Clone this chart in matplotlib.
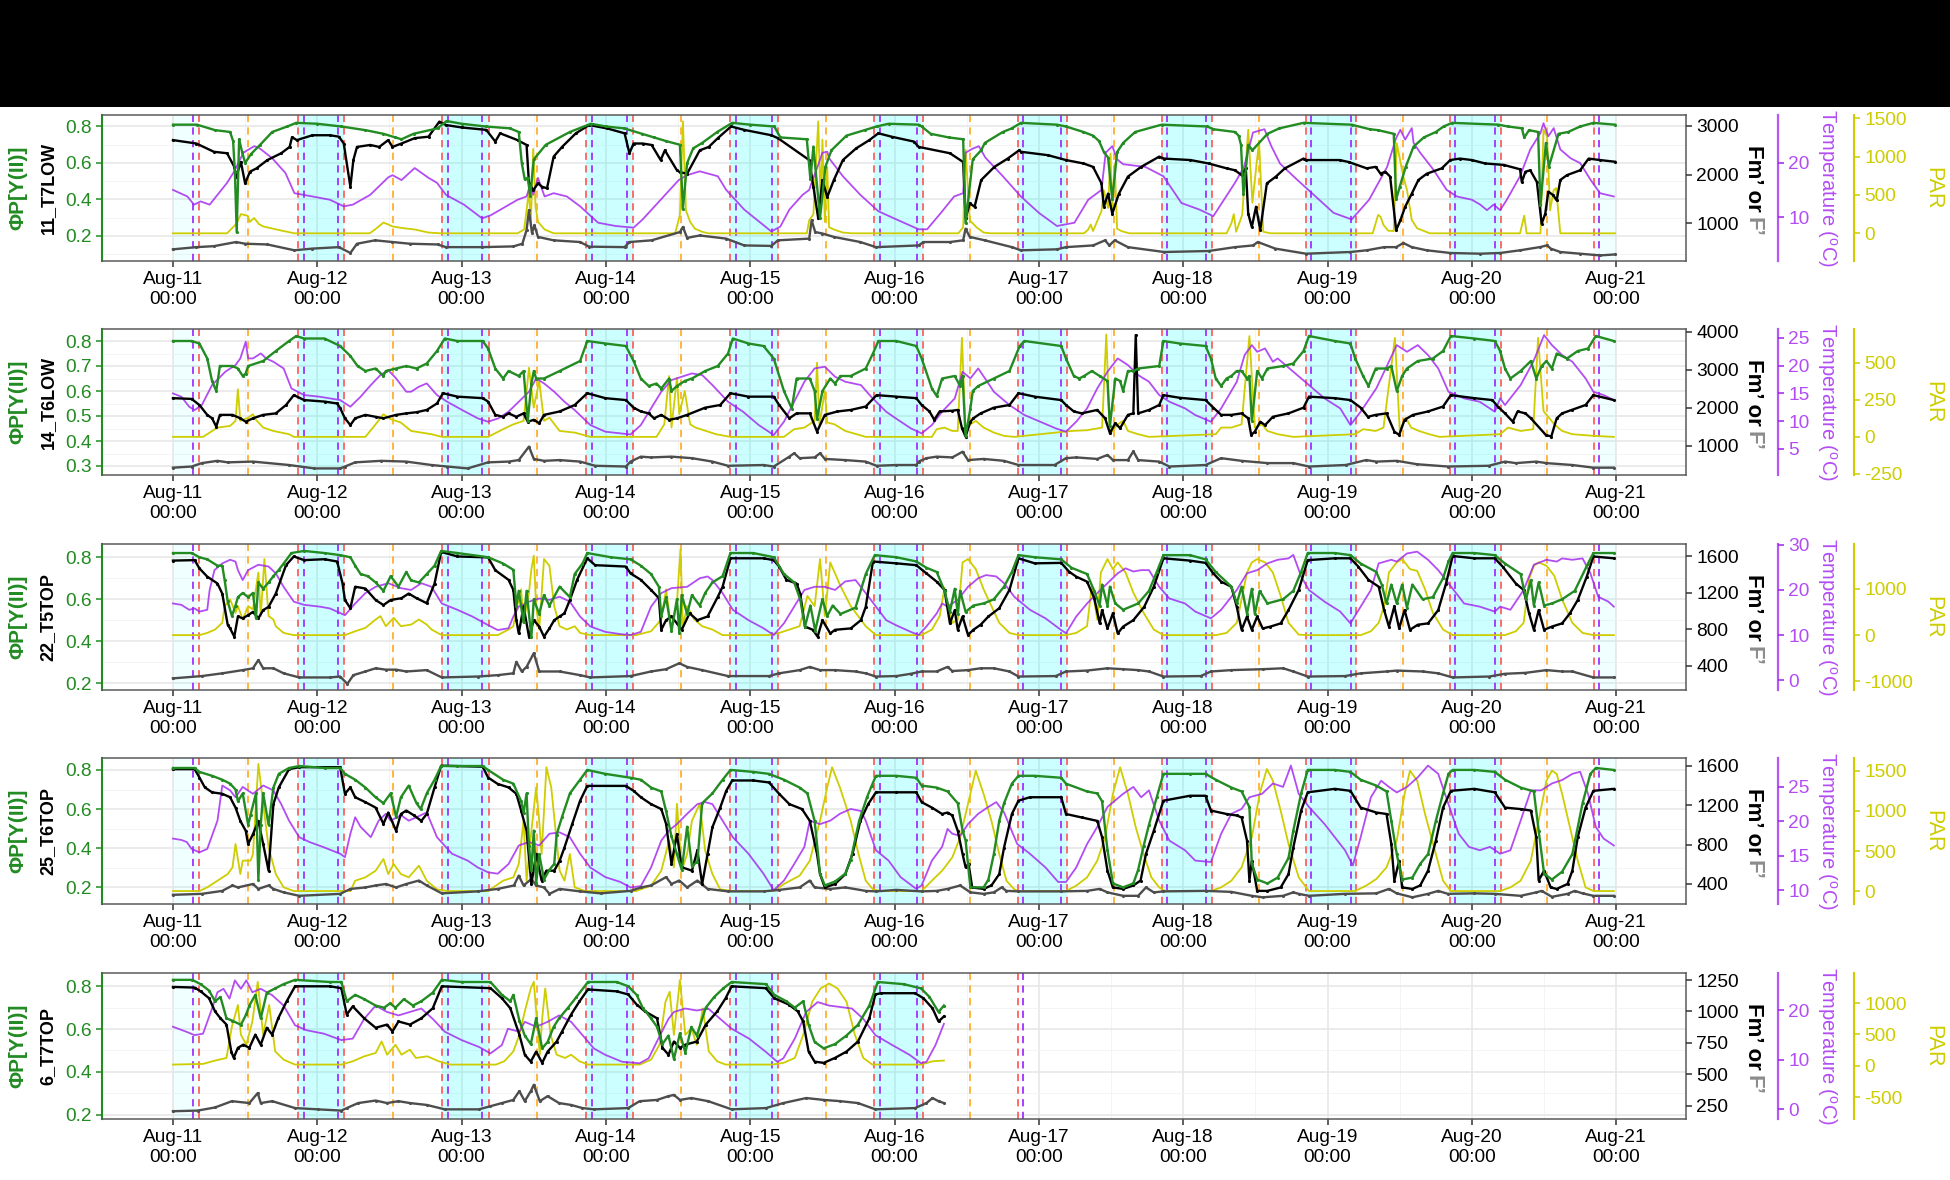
import matplotlib
matplotlib.use('Agg')
import matplotlib.pyplot as plt
import matplotlib.dates as mdates
from matplotlib.patches import Rectangle
from matplotlib.ticker import FixedLocator
import numpy as np
import pandas as pd

plt.rcParams['font.family'] = ['Liberation Sans', 'DejaVu Sans']
plt.rcParams['mathtext.fontset'] = 'custom'
plt.rcParams['mathtext.rm'] = 'Liberation Sans'
plt.rcParams['axes.unicode_minus'] = False

START = pd.Timestamp('2021-08-11 00:00')

# ---- data: (hours since Aug-11 00:00, value) ----
# panel 1 : 11_T7LOW
p1_phi = [(0,0.81),(4,0.81),(7,0.78),(9.5,0.77),(10,0.72),(10.3,0.55),(10.6,0.22),(11,0.73),(11.5,0.66),(12,0.60),(13,0.65),(14.5,0.70),(16.5,0.77),(19,0.80),(20.5,0.82),(24,0.815),(28,0.80),(32,0.78),(35,0.76),(37,0.74),(38,0.73),(40,0.76),(44,0.79),(45.5,0.83),(48,0.815),(52,0.80),(56,0.79),(57.5,0.77),(58,0.60),(58.5,0.51),(59,0.52),(59.4,0.42),(60,0.62),(62,0.70),(66,0.77),(69.5,0.815),(72,0.80),(75,0.79),(78,0.76),(80,0.74),(82,0.72),(84.3,0.70),(84.8,0.35),(85.5,0.60),(86.5,0.68),(88,0.71),(90.5,0.77),(93,0.82),(96,0.81),(100,0.80),(101,0.74),(105.4,0.73),(106,0.51),(106.5,0.69),(107.6,0.30),(108.5,0.58),(109.5,0.67),(112,0.75),(115,0.78),(117,0.80),(119,0.815),(124,0.81),(124.5,0.80),(126,0.76),(129,0.74),(131.4,0.73),(131.8,0.27),(133,0.62),(134.4,0.67),(135,0.71),(138,0.77),(139.5,0.79),(141,0.82),(147,0.81),(148.5,0.80),(151.4,0.77),(153,0.75),(154,0.72),(154.8,0.66),(155.5,0.63),(156.2,0.40),(157,0.66),(158,0.71),(160,0.77),(164.4,0.81),(172,0.80),(173,0.785),(176.6,0.77),(177.2,0.75),(177.6,0.70),(178,0.43),(178.8,0.70),(179.5,0.67),(182,0.76),(184,0.79),(188,0.82),(196,0.81),(199,0.785),(200.4,0.78),(203,0.76),(203.4,0.40),(204,0.47),(205,0.58),(206.3,0.69),(208,0.74),(210,0.77),(211.3,0.80),(212.7,0.82),(220.4,0.81),(222,0.80),(224.3,0.79),(224.7,0.74),(225.5,0.78),(227,0.77),(227.4,0.37),(228.3,0.71),(228.8,0.58),(230.4,0.76),(232,0.77),(234,0.80),(236.2,0.82),(239.8,0.81)]
p1_fm = [(0,2710),(3.9,2640),(6.8,2470),(9,2440),(10.2,2160),(10.5,1960),(11.3,2260),(12,1820),(12.8,2060),(13.9,2130),(15.7,2300),(18,2440),(19.4,2570),(19.8,2770),(20.6,2710),(23.2,2810),(26.1,2810),(27.6,2780),(28.4,2640),(29.5,1750),(30,2300),(30.6,2570),(32.8,2610),(34.3,2570),(35.8,2710),(36.5,2570),(38,2640),(40.2,2750),(42.5,2780),(44.3,3090),(45.4,3020),(48,2970),(52.1,2920),(53.6,2680),(54.4,2850),(57.3,2710),(58.8,2610),(59.2,1820),(59.9,1680),(60.7,1820),(61.4,1750),(62.2,1720),(63.3,2370),(64.7,2570),(67,2850),(69.2,3020),(72.2,2950),(75.1,2850),(75.9,2440),(76.6,2640),(78.1,2640),(79.6,2610),(81.1,2300),(81.8,2500),(83.8,2090),(84.3,2050),(85.5,2020),(87.6,2500),(89.1,2570),(90.6,2750),(92.8,2990),(95,2920),(99.5,2810),(100.6,2750),(105.8,2300),(106.5,1750),(107.3,1100),(108,1890),(108.8,1540),(109.9,1890),(111.4,2300),(113.6,2540),(115.8,2710),(117.3,2850),(119.5,2780),(123.2,2680),(124,2570),(129.2,2440),(131.4,2260),(131.8,1100),(132.5,1410),(133.3,1340),(134.4,1890),(136.6,2160),(138.8,2330),(140.7,2500),(141,2470),(145.5,2400),(148.5,2300),(151.4,2230),(153,2160),(154.4,1820),(154.8,1340),(155.5,1610),(156.2,1200),(157.3,1610),(158.8,1960),(161,2160),(164,2370),(164.8,2330),(169.2,2300),(172.2,2230),(175.2,2130),(176.6,2090),(177.7,1990),(178.4,2130),(178.8,1200),(179.4,925),(180.1,1340),(180.8,860),(181.9,1820),(183.4,1960),(184.9,2130),(188,2330),(188.4,2300),(194,2300),(195.5,2260),(198.5,2130),(200,2160),(200.8,2020),(201.6,2060),(202.4,1960),(203.4,860),(204.1,1060),(204.9,1340),(206,1610),(207.1,1890),(208.5,2020),(211,2130),(212.4,2300),(214,2330),(216,2300),(218.2,2230),(221.3,2200),(224,2110),(224.3,1850),(224.9,2060),(225.7,2090),(226.8,1850),(227.6,990),(228.2,1200),(228.7,1650),(229.5,1580),(230.1,1470),(230.7,1890),(231.8,1990),(234,2090),(235.4,2330),(237.3,2300),(239.8,2265)]
p1_f = [(0,465),(3.9,510),(6.8,530),(10.5,615),(12,580),(15.7,565),(20.2,445),(23.2,480),(27.6,510),(29.5,390),(30.6,580),(33.6,650),(36.5,615),(39.4,580),(44,565),(45.4,510),(51.4,510),(56.6,525),(58.1,580),(58.8,860),(59.2,1270),(59.7,800),(60.1,960),(60.7,720),(63.3,650),(67.7,615),(69.2,520),(75.1,510),(75.9,615),(79.6,650),(84.3,820),(84.8,925),(85.5,700),(87.6,750),(92,685),(95,545),(99.5,535),(100.6,650),(105.8,685),(106.2,1060),(106.8,820),(108,790),(109.9,720),(114.3,615),(116.9,510),(124,545),(124.8,615),(129.2,615),(131.4,650),(131.8,890),(132.5,720),(135,650),(139.5,510),(141,445),(147,465),(148.5,510),(153,545),(155,650),(155.7,545),(156.6,650),(158.8,510),(164.8,410),(172.2,430),(176.6,510),(179.6,545),(180.4,615),(183.3,480),(188.4,375),(195.8,410),(198.5,445),(201.4,510),(203.4,510),(204.6,595),(206,510),(208.5,445),(212.4,390),(217.4,375),(220.7,390),(224,445),(227.4,513),(228.5,547),(229.1,480),(230.7,410),(234,375),(237.3,340),(239.8,360)]
p1_temp = [(0,15.0),(2.4,13.8),(3.5,12.3),(4.6,12.9),(6.1,12.3),(9,16.3),(10.2,18.4),(11.7,21.8),(13.5,23.0),(14.3,22.7),(16.5,20.8),(18.7,18.1),(20.2,14.4),(23.2,13.8),(26.1,13.2),(28.4,12.0),(29.9,12.3),(32.8,14.1),(35.8,17.3),(36.5,17.7),(38,16.8),(40.2,19.0),(42.5,17.2),(43.9,16.3),(45.4,14.1),(48.4,12.3),(51.4,9.8),(52.9,10.4),(57.3,13.2),(58.8,13.8),(59.5,16.3),(59.9,14.1),(60.7,17.2),(61.8,13.8),(63.3,14.4),(65.5,13.8),(67.7,12.0),(70.7,9.0),(73.6,8.4),(76.6,8.1),(78.1,9.6),(81.1,13.2),(84.1,16.8),(85.5,17.7),(87.6,18.4),(90.6,17.5),(92,15.0),(95,11.4),(99.5,7.4),(101,8.3),(102.5,11.4),(104.7,14.1),(105.8,15.0),(106.2,16.3),(107.3,19.6),(108,21.8),(108.8,22.0),(109.1,20.8),(111.4,17.5),(114.3,14.1),(117.3,11.1),(120.3,9.6),(124,7.8),(125.4,7.8),(127.7,10.8),(129.9,13.8),(131.4,14.4),(131.8,21.8),(132.9,22.5),(134,23.0),(135.1,20.9),(138,17.5),(141,13.8),(144,10.8),(147,8.4),(149.9,9.0),(152.2,13.2),(154.4,15.0),(155.1,21.8),(156.2,23.0),(157,20.6),(158,19.7),(161.7,19.2),(164.7,17.5),(167.7,12.6),(170.7,11.4),(173,10.2),(176.6,16.3),(178.1,19.2),(179.6,25.5),(181.5,26.1),(182.6,23.1),(184.1,19.8),(187,16.8),(190,13.8),(193,10.8),(196,9.6),(198.9,13.2),(201.9,19.2),(203.4,24.5),(204.1,26.0),(204.9,24.2),(206,26.3),(206.3,23.6),(207.4,21.8),(209.6,18.7),(211.8,15.0),(213.5,13.8),(216,13.2),(217.4,12.3),(218.5,11.3),(219.6,12.3),(220.7,11.3),(221.8,13.2),(224,17.5),(225.7,22.4),(227.4,25.4),(227.9,27.2),(228.7,24.8),(229.6,26.3),(230.7,22.4),(232.4,20.8),(234,19.9),(235.7,16.9),(237.3,14.4),(239.6,13.8)]
p1_par = [(0,0),(9,0),(9.8,65),(10.5,120),(11.3,250),(12.4,230),(12.8,150),(13.5,200),(14.3,120),(15,90),(17.2,50),(20.2,0),(32.7,0),(33.6,50),(35,140),(35.8,115),(36.5,90),(38,70),(40.2,50),(42.5,10),(44.5,0),(57.3,0),(58.4,50),(58.8,300),(59.2,560),(59.5,100),(59.9,1100),(60.3,350),(60.7,150),(61.8,50),(63.3,0),(83.5,0),(84.3,240),(84.8,1460),(85.3,300),(86,150),(86.8,60),(88,20),(89,0),(105.4,0),(105.8,170),(106.5,250),(107.3,1460),(107.7,400),(108,1220),(108.4,150),(108.8,870),(109.1,80),(109.9,50),(111.4,10),(112.9,0),(130.6,0),(131.4,80),(131.8,1090),(132.5,170),(133.6,80),(134.8,10),(136,0),(151.5,0),(152.2,50),(152.6,115),(153,30),(154.4,290),(154.8,560),(155.5,330),(155.9,1040),(156.2,330),(156.6,900),(157,60),(157.7,30),(159,0),(175.2,0),(176,130),(176.4,250),(176.8,20),(177.8,240),(178.8,1350),(179.5,400),(180.6,1200),(181.3,20),(182.5,0),(199.5,0),(200.4,240),(200.8,217),(201.3,108),(202.1,34),(203,30),(203.5,1175),(204.6,740),(205.2,565),(206,175),(206.9,65),(209,0),(224,0),(224.7,230),(225.1,0),(227.4,0),(227.9,1350),(228.5,1265),(229,300),(229.6,565),(230,590),(230.7,0),(239.8,0)]

# panel 2 : 14_T6LOW
p2_phi = [(0,0.80),(3.1,0.80),(4.4,0.79),(5.7,0.73),(6.5,0.64),(7.2,0.60),(7.8,0.70),(9.9,0.70),(10.8,0.69),(11.6,0.66),(12.1,0.67),(12.5,0.70),(15,0.72),(17.1,0.76),(19.3,0.80),(20.5,0.82),(21.8,0.81),(25.2,0.81),(27.8,0.78),(29.5,0.74),(30.7,0.70),(32,0.68),(33.7,0.69),(35,0.66),(35.4,0.68),(37.1,0.69),(38.8,0.70),(40.5,0.69),(42.2,0.71),(43.9,0.76),(45.2,0.81),(47.3,0.80),(51.5,0.80),(52.4,0.77),(53.6,0.69),(54.9,0.65),(55.8,0.68),(57.5,0.66),(58.3,0.68),(59,0.48),(59.6,0.63),(60,0.68),(60.4,0.65),(61.7,0.65),(64.3,0.68),(67.7,0.72),(68.9,0.80),(71.9,0.79),(75.3,0.78),(76.6,0.72),(77.8,0.65),(79.1,0.62),(80.4,0.63),(81.2,0.61),(82.5,0.65),(82.9,0.60),(83.8,0.62),(85.1,0.64),(86.3,0.65),(88.5,0.68),(90.6,0.70),(92.3,0.75),(93.1,0.81),(95.7,0.79),(98.2,0.78),(99.9,0.73),(101.6,0.60),(102.9,0.53),(103.7,0.65),(105.9,0.65),(106.7,0.60),(107.1,0.49),(108,0.60),(109.3,0.65),(110.1,0.63),(111,0.66),(112.7,0.66),(115.2,0.69),(116.4,0.75),(117.3,0.80),(120.3,0.80),(123.6,0.78),(124.5,0.73),(126.2,0.61),(127,0.58),(127.9,0.65),(130,0.66),(130.9,0.62),(131.3,0.66),(131.8,0.42),(132.6,0.53),(133,0.60),(133.9,0.62),(136.5,0.65),(139.1,0.68),(140.8,0.78),(141.6,0.80),(147.7,0.78),(148.5,0.73),(149.8,0.66),(150.7,0.65),(151.5,0.66),(152.8,0.68),(154.1,0.66),(155.4,0.64),(155.8,0.46),(156.7,0.65),(157.5,0.64),(158,0.60),(158.8,0.68),(159.7,0.68),(160.5,0.69),(164,0.70),(164.7,0.80),(167.4,0.79),(171.7,0.78),(172.6,0.73),(173.4,0.65),(174.3,0.62),(175.2,0.65),(176,0.66),(176.9,0.68),(177.7,0.68),(178.6,0.65),(179,0.66),(179.4,0.48),(180.3,0.68),(181.1,0.65),(182,0.69),(184.6,0.70),(186.3,0.71),(188,0.76),(188.9,0.82),(193.2,0.80),(195.8,0.79),(196.6,0.73),(197.9,0.66),(198.8,0.62),(200,0.69),(201.8,0.69),(202.6,0.70),(203.5,0.60),(204.4,0.66),(205.2,0.69),(207,0.72),(209.5,0.73),(211.2,0.76),(212.5,0.82),(216.4,0.81),(219.8,0.80),(220.7,0.76),(221.5,0.69),(222.4,0.65),(224.1,0.68),(225.8,0.72),(226.7,0.65),(227.6,0.70),(228.4,0.72),(229.3,0.69),(230.1,0.75),(231.8,0.73),(233.6,0.76),(235.3,0.77),(236.6,0.82),(239.6,0.80)]
p2_fm = [(0,2250),(3.1,2230),(4.4,2070),(5.7,1810),(6.5,1720),(7.2,1500),(7.8,1810),(9.9,1810),(11.2,1720),(12.1,1630),(13.3,1720),(15,1810),(17.1,1850),(18.8,2070),(20.1,2330),(21.8,2200),(25.2,2160),(27.3,2110),(27.8,1990),(28.6,1720),(29.5,1540),(30.3,1720),(32,1810),(33.7,1760),(35,1720),(37.1,1810),(38.8,1850),(40.5,1880),(42.2,1940),(43.9,2110),(44.9,2380),(47.3,2290),(51.5,2250),(52.4,2160),(53.6,1810),(54.9,1760),(55.8,1850),(57.1,1760),(58.3,1850),(59,1630),(60,1680),(60.9,1590),(61.7,1810),(64.3,1900),(66.8,2070),(68.9,2380),(71.9,2250),(75.3,2200),(76.6,2000),(77.8,1900),(79.1,1850),(80,1720),(81.2,1810),(82.5,1680),(83.8,1720),(85.5,1810),(88.5,2000),(91,2070),(92.7,2380),(95.7,2290),(99.9,2290),(100.8,2070),(102.5,1720),(103.7,1850),(105.9,1850),(107.1,1370),(108.4,1810),(110.5,1900),(112.7,1940),(115.2,2030),(117,2330),(120.3,2290),(123.6,2250),(124.5,2070),(125.8,1900),(126.6,1680),(127.5,1900),(129.6,1920),(130.5,1940),(131.2,1460),(131.8,1240),(132.6,1630),(133.1,1720),(134.3,1850),(136.5,2000),(139.1,2070),(140.6,2380),(143.3,2290),(147.7,2200),(148.5,2070),(149.8,1900),(151.1,1850),(153.7,1940),(155,1720),(155.8,1330),(156.7,1590),(157.5,1460),(158.8,1810),(159.7,1850),(160.1,3910),(160.5,1850),(162.3,1940),(164,2070),(164.7,2330),(167.4,2260),(171.7,2200),(173,2000),(174.3,1810),(176,1810),(177.7,1850),(178.8,1720),(179.3,1280),(179.9,1370),(180.8,1630),(181.6,1540),(182.9,1760),(185.5,1850),(188,2000),(188.9,2290),(193.2,2250),(195.8,2200),(197.5,2000),(198.7,1760),(200,1810),(201.8,1850),(203.1,1370),(203.9,1280),(204.8,1680),(206.2,1810),(208.7,1900),(211.2,2030),(212.5,2330),(216.4,2250),(219.4,2200),(220.3,2030),(221.5,1850),(222.8,1630),(223.6,1900),(224.9,1850),(225.8,1720),(228.3,1280),(229.2,1240),(230.1,1720),(231,1850),(232.6,1940),(234.9,2070),(236.2,2330),(239.6,2200)]
p2_f = [(0,420),(3.1,450),(4.8,540),(7.4,600),(9.1,560),(13.3,580),(19.3,490),(23.5,400),(27.8,400),(28.6,450),(30.3,560),(34.6,600),(38.8,580),(43,490),(45.6,450),(49,400),(52.4,560),(55.8,580),(57.5,620),(59.2,975),(60,650),(61.7,600),(64.3,620),(67.7,580),(70.2,470),(75.3,450),(76.1,580),(77.8,710),(79.5,690),(82.9,710),(86.3,670),(89.7,580),(92.3,470),(98.2,490),(99.9,450),(102.5,710),(103.3,800),(104.2,670),(106.7,690),(107.6,800),(108.4,650),(111.8,620),(115.2,580),(117,470),(120.3,490),(123.6,490),(124,580),(125.3,670),(127,710),(129.6,690),(131.3,840),(132.2,620),(134.8,650),(138.2,600),(140.6,490),(146.6,490),(148.5,670),(150.2,690),(153.7,650),(155.4,755),(156.3,620),(158.8,620),(159.7,850),(160.5,620),(164,580),(165.7,450),(171.7,490),(174.3,670),(177.7,600),(182,540),(186.3,540),(188.9,450),(195,490),(198.4,620),(200.1,580),(203.5,600),(206.9,510),(212,450),(218.8,470),(221.5,580),(223.3,540),(226.7,580),(228.4,540),(232.7,490),(236.2,420),(239.6,420)]
p2_temp = [(0,15.0),(1.4,14.4),(2.7,12.6),(3.6,12.0),(4.8,12.9),(6.5,16.5),(8.7,18.9),(10.4,20.1),(11.2,21.3),(12.1,24.3),(12.5,21.3),(13.3,21.3),(14.6,22.2),(15.5,21.3),(16.7,20.7),(18.4,19.5),(19.7,15.9),(21.8,14.7),(24.4,14.4),(27.8,13.8),(29.5,12.6),(31.2,14.4),(32.9,16.5),(34.5,18.3),(35.8,19.2),(37.1,17.7),(38.8,15.3),(39.6,15.3),(40.9,16.2),(42.2,16.8),(43.9,14.7),(45.6,13.5),(48.1,12.0),(50.7,10.5),(52.4,9.9),(54.1,10.5),(55.8,11.7),(57.5,13.5),(59.2,15.3),(60.4,17.7),(61.7,16.8),(63.4,15.3),(65.1,13.5),(66.8,12.0),(69.4,9.3),(71.9,8.1),(76.1,7.6),(77.8,9.3),(79.5,12.3),(81.2,15.3),(82.9,17.4),(84.6,18.0),(86.3,18.6),(88,18.3),(89.7,16.5),(92.3,13.5),(94.8,11.7),(97.4,9.3),(99.9,7.5),(101.6,9.9),(103.3,13.5),(105,17.1),(106.7,19.5),(108.4,19.8),(110.1,18.0),(111.8,17.1),(114.4,16.5),(116.1,14.4),(118.6,11.7),(120.2,10.5),(122.7,8.7),(124.5,7.8),(126.2,9.3),(127.9,11.7),(130,14.1),(131.3,18.9),(132.6,17.7),(133.9,19.5),(135.6,16.8),(136.5,15.3),(139.1,12.9),(141.6,11.1),(144.2,9.9),(146.8,8.7),(148.5,8.1),(150.2,9.9),(152,12.3),(153.7,15.9),(155.4,18.9),(157.1,21.3),(158.8,20.1),(160.5,18.3),(162.3,17.1),(164,14.7),(165.7,13.5),(168.3,12.3),(170,11.1),(172.6,9.9),(174.3,12.3),(176.9,17.1),(178.2,21.9),(179.4,23.7),(180.3,22.5),(181.6,23.1),(182.9,20.7),(183.7,21.3),(186.3,18.9),(188.9,16.5),(191.5,14.1),(194.1,12.3),(195.8,9.3),(197.5,11.7),(200.1,15.9),(202.2,20.7),(203.5,23.7),(205.2,22.5),(207,23.7),(208.7,21.9),(210.4,19.5),(212.1,15.3),(214.7,14.1),(217.3,13.5),(219.8,11.7),(220.7,14.1),(221.5,12.9),(224.1,16.5),(226.2,20.7),(228,25.5),(229.3,23.7),(231,21.9),(232.7,20.7),(234.9,17.7),(236.2,15.3),(237.9,14.7),(239.6,13.8)]
p2_par = [(0,0),(5,0),(7.4,63),(9.5,74),(10.4,108),(10.8,322),(11.2,108),(12.5,130),(13.3,153),(13.7,120),(15,63),(16.7,40),(19.3,18),(20.1,0),(32,0),(33.7,85),(35,153),(36.2,120),(37.9,97),(39.6,40),(43,18),(44.7,0),(52.4,0),(54.9,52),(56.6,85),(58.3,108),(59.2,468),(60,198),(60.9,378),(61.7,108),(62.6,130),(64.3,40),(66.8,29),(69.4,0),(80.4,0),(81.7,85),(82.5,412),(82.9,63),(83.8,400),(84.2,153),(85.1,310),(86,85),(86.9,63),(90.3,18),(92.7,0),(101.6,0),(103.3,52),(105,63),(106.7,108),(107.1,502),(107.5,85),(108.4,310),(108.8,97),(110,85),(111.8,40),(115.2,0),(126.2,0),(127,52),(128.3,63),(129.6,40),(130.5,40),(131.2,670),(131.8,40),(132.6,85),(133.5,108),(134.8,63),(136.5,29),(138.2,7),(139.9,0),(149.4,40),(152,45),(154.5,63),(155.2,693),(155.8,18),(157.1,85),(158,108),(158.8,40),(160.5,18),(162.3,0),(173.4,18),(174.3,63),(176,63),(177.7,85),(179,682),(179.9,63),(181.1,85),(182,40),(183.7,18),(186.3,0),(196.6,18),(197.9,52),(200,40),(201.3,63),(203.2,670),(204,40),(205,130),(205.9,63),(207.2,40),(208.9,18),(210.6,0),(220.7,18),(222,63),(224.1,40),(226.2,52),(227,670),(227.9,175),(228.8,130),(229.7,85),(231,40),(232.7,18),(236.2,7),(239.6,0)]

# panel 3 : 22_T5TOP
p3_phi = [(0,0.82),(3.1,0.82),(4.4,0.80),(5.7,0.79),(7.4,0.76),(8.2,0.76),(8.6,0.69),(9.1,0.59),(9.8,0.52),(10.4,0.57),(10.8,0.61),(11.6,0.63),(12.5,0.61),(13.3,0.63),(13.8,0.51),(14.2,0.68),(15,0.65),(15.9,0.68),(16.7,0.71),(17.6,0.74),(18.4,0.77),(19.7,0.82),(21.8,0.83),(25.2,0.82),(27.8,0.81),(29.5,0.80),(30.3,0.76),(31.2,0.72),(32.4,0.71),(33.7,0.68),(35,0.64),(36.2,0.71),(37.5,0.66),(38.8,0.73),(39.6,0.69),(40.9,0.68),(42.2,0.72),(43.5,0.76),(44.6,0.83),(47.3,0.82),(52.4,0.80),(54.9,0.77),(56.6,0.74),(57.1,0.57),(57.5,0.64),(58.3,0.49),(58.8,0.64),(59.6,0.42),(60,0.60),(60.9,0.53),(61.7,0.62),(62.6,0.57),(64.3,0.66),(66,0.61),(66.8,0.72),(68.1,0.77),(68.9,0.82),(72.8,0.80),(76.1,0.79),(77.8,0.76),(79.5,0.72),(80.8,0.66),(81.2,0.52),(82,0.61),(82.9,0.45),(83.8,0.60),(84.2,0.44),(84.6,0.62),(85.5,0.53),(86.3,0.62),(87.6,0.57),(88.5,0.63),(89.7,0.68),(91.4,0.71),(92.7,0.82),(96.5,0.82),(99.9,0.80),(101.6,0.72),(103.3,0.68),(104.3,0.60),(105.1,0.47),(106,0.57),(106.8,0.45),(108,0.60),(108.8,0.52),(109.7,0.57),(111,0.53),(113.5,0.56),(115.2,0.72),(116.7,0.81),(120.3,0.80),(123.6,0.78),(125.3,0.75),(127,0.73),(128.3,0.64),(129.2,0.54),(130,0.65),(130.5,0.53),(130.9,0.64),(131.8,0.54),(133.1,0.57),(134.8,0.58),(136.5,0.60),(138.2,0.66),(139.5,0.73),(140.6,0.81),(143.3,0.80),(147.7,0.79),(149.4,0.75),(152,0.72),(153.2,0.64),(154.1,0.57),(154.5,0.67),(155.4,0.57),(155.8,0.66),(156.7,0.58),(158,0.55),(160.5,0.58),(162.3,0.64),(163.6,0.73),(164.7,0.81),(169.1,0.81),(171.7,0.79),(173.4,0.73),(176,0.66),(176.9,0.58),(177.7,0.66),(178.6,0.53),(179.4,0.65),(179.9,0.53),(180.7,0.64),(182,0.58),(184.6,0.60),(186.3,0.64),(187.6,0.73),(188.7,0.82),(193.2,0.82),(195.8,0.81),(197.5,0.77),(200.1,0.73),(201,0.67),(201.8,0.58),(202.6,0.67),(203.5,0.58),(204.4,0.67),(205.2,0.56),(206.1,0.67),(207.8,0.60),(209.5,0.61),(211.2,0.70),(212.1,0.78),(212.8,0.82),(216.4,0.82),(219.8,0.81),(221.5,0.77),(224.1,0.72),(225,0.60),(225.8,0.69),(226.3,0.57),(227.1,0.68),(228,0.57),(229.3,0.58),(231,0.60),(233.1,0.64),(235.3,0.77),(236.2,0.82),(239.6,0.82)]
p3_fm = [(0,1550),(3.6,1555),(4.4,1465),(5.7,1375),(7.4,1300),(8.2,1190),(9.1,850),(9.5,810),(10.2,720),(10.8,940),(11.6,920),(12.5,955),(13.3,990),(14.2,920),(15,1010),(15.9,1045),(17.1,1190),(18.8,1500),(20.1,1595),(21.8,1555),(25.2,1565),(27.3,1540),(28.2,1300),(28.6,1120),(29.5,1030),(30.3,1265),(32,1245),(33.7,1120),(35,1065),(36.2,1120),(38,1140),(39.2,1190),(40.5,1140),(42.2,1085),(43.5,1300),(44.6,1645),(47.3,1595),(52.4,1585),(53.6,1445),(55.8,1340),(56.6,1230),(57.1,900),(57.5,755),(58.3,1050),(59.2,720),(60,900),(60.9,830),(61.7,720),(62.6,810),(63.4,900),(64.3,940),(65.1,975),(66,1120),(67.2,1340),(68.9,1575),(70.2,1500),(75.3,1485),(76.1,1410),(77.8,1340),(79.5,1230),(80.8,1140),(81.2,795),(82,900),(82.9,940),(83.8,865),(84.6,795),(85.9,975),(87.2,900),(88.9,940),(90.6,1155),(91.4,1265),(92.7,1575),(98.2,1575),(99.9,1555),(100.8,1485),(102,1340),(103.7,1300),(104.3,1190),(105.1,830),(106.4,795),(107.2,720),(108,900),(109.3,755),(110.1,795),(112.7,810),(114.4,900),(115.2,1045),(116.4,1540),(120.3,1520),(123.6,1500),(125.3,1410),(127,1320),(128.3,1230),(129.2,865),(130,1010),(130.5,795),(131.3,940),(132.2,740),(133.1,795),(134.3,850),(135.6,940),(137.4,1030),(139.1,1230),(140.6,1575),(143.3,1520),(147.7,1525),(149,1430),(150.2,1375),(152,1320),(153.2,1140),(154.1,865),(154.5,1010),(155.4,810),(156.3,975),(157.1,755),(158,830),(159.7,900),(161.5,1045),(163.1,1265),(164.7,1575),(169.1,1550),(171.7,1525),(173,1410),(174.3,1320),(176,1265),(176.9,1045),(177.7,795),(178.6,940),(179.4,795),(180.3,940),(181.2,810),(182.5,830),(184.2,865),(185.5,1010),(187.2,1230),(188.7,1555),(193.2,1575),(195.8,1575),(197.1,1485),(198.8,1340),(200.5,1265),(201.4,1010),(202.2,830),(203.1,1050),(203.9,810),(204.8,1010),(205.7,795),(207,850),(208.7,865),(210.4,1010),(211.7,1300),(212.8,1600),(216.4,1575),(219.8,1575),(221.1,1485),(223.3,1300),(224.6,1230),(225.5,975),(226.3,795),(227.1,1010),(228,795),(229.3,830),(231,865),(232.3,975),(233.6,1120),(235.1,1375),(236.2,1595),(239.6,1575)]
p3_f = [(0,265),(4.8,290),(8.2,320),(11.6,355),(13.3,375),(14.2,465),(15,375),(16.7,375),(18.4,320),(21,275),(26.1,275),(27.8,285),(29,205),(30,300),(32,340),(33.7,375),(35.4,360),(37.1,360),(38.8,340),(42.2,355),(44.7,275),(50.7,285),(54,300),(56.6,320),(57.1,445),(58,340),(58.8,390),(60,540),(60.9,340),(64.3,340),(67.7,300),(69.4,275),(76.1,290),(79.5,340),(82,365),(84.2,430),(85.5,390),(88,355),(92.3,290),(99.1,290),(100.8,320),(104.2,355),(105.9,390),(107.6,355),(110.1,355),(113.5,340),(115.2,320),(116.9,285),(120.3,290),(122.7,315),(124.5,340),(127,340),(128.8,390),(129.6,345),(132.2,355),(134.3,375),(136.5,375),(139.1,340),(140.6,285),(146.8,290),(148.5,340),(152,350),(155.4,375),(158,365),(160.5,355),(162.3,340),(164.7,285),(170.9,290),(172.6,340),(176,355),(181.2,365),(184.6,375),(186.3,340),(188.7,285),(194.9,290),(197.5,320),(201.8,340),(203.5,350),(207.8,340),(210.4,320),(212.8,275),(218.9,285),(221.5,315),(224.9,325),(228.4,355),(231,340),(232.7,340),(236.2,275),(239.6,275)]
p3_temp = [(0,17.0),(1.4,16.7),(2.7,15.6),(3.6,15.9),(4.4,15.2),(5.7,15.6),(6.1,20.0),(6.9,24.4),(8.2,25.9),(9.5,26.7),(10.4,26.3),(10.8,24.4),(11.6,22.2),(12.5,24.4),(14.2,25.6),(15.9,25.2),(17.1,23.7),(18.4,20.7),(20.1,17.4),(21.8,16.7),(24.4,16.3),(26.1,15.9),(28.6,14.4),(30.3,17.0),(32,19.3),(33.7,20.7),(35.8,21.5),(37.9,20.4),(39.6,20.0),(41.3,21.5),(43,20.7),(44.7,17.0),(47.3,15.6),(49.8,14.1),(52.4,12.2),(54,11.1),(55.8,11.5),(56.6,14.1),(57.5,16.3),(59.2,17.4),(60.9,18.1),(62.6,17.8),(64.3,18.5),(66,17.4),(67.7,14.1),(69.4,11.9),(71.9,10.7),(74.4,10.2),(76.1,10.0),(77.8,10.7),(79.5,16.3),(81.2,19.3),(82.9,20.4),(85.5,20.7),(87.6,22.6),(88.9,23.0),(89.7,22.2),(91.4,19.3),(93.1,15.6),(95.7,13.3),(98.2,11.5),(99.9,10.0),(101.6,12.6),(103.3,16.3),(105,20.0),(106.7,20.7),(108.4,20.7),(110.1,20.0),(111.8,21.9),(113.5,22.2),(115.2,19.3),(116.9,16.3),(118.6,13.3),(120.2,12.2),(122.7,10.7),(124,10.0),(125.3,11.9),(127,14.8),(127.9,17.0),(128.8,16.3),(130.5,17.8),(132.2,20.7),(133.9,22.6),(135.2,23.3),(136.9,23.0),(138.2,21.5),(139.9,18.5),(142.5,15.6),(145.1,13.7),(147.7,11.1),(148.5,10.4),(150.2,14.1),(152,17.0),(153.7,19.3),(155.4,21.5),(157.1,23.7),(158.4,24.8),(159.7,24.1),(161,24.4),(162.3,24.4),(164,20.7),(165.7,18.1),(168.3,17.0),(170,15.2),(172.6,13.7),(174.3,15.6),(176.9,20.0),(178.6,23.7),(180.3,24.4),(182,25.9),(183.7,26.7),(185.5,27.0),(186.3,27.8),(187.6,23.0),(188.9,20.0),(191.5,17.4),(194.1,15.2),(195.8,12.6),(197.5,16.3),(199.2,20.0),(200.5,25.9),(202.6,26.7),(203.5,26.3),(205.2,28.1),(206.9,28.5),(208.7,26.7),(210.4,24.4),(212.1,21.5),(214.7,17.0),(217.3,16.3),(219.8,15.2),(220.7,16.3),(222.4,15.6),(224.6,20.0),(226.3,25.6),(228.4,26.7),(230.1,26.3),(231,27.0),(232.7,26.7),(234.4,27.0),(235.7,23.7),(237,18.5),(238.7,17.4),(239.6,16.3)]
p3_par = [(0,0),(4.4,0),(5.7,47),(7,120),(8.2,265),(8.6,627),(9.5,772),(10.4,482),(10.8,627),(11.6,337),(12.5,627),(13.3,555),(14.2,1352),(14.6,410),(15.2,1642),(15.9,410),(16.7,337),(17.1,192),(18.4,47),(20.1,0),(28.6,0),(30.3,83),(32,156),(33.7,337),(34.5,410),(35.4,192),(36.7,373),(37.9,192),(39.6,227),(40.9,337),(42.2,227),(43,120),(44.7,0),(54,0),(55.8,120),(56.6,192),(57.1,555),(57.9,990),(58.3,265),(59.2,917),(59.6,1424),(60,1714),(60.4,627),(60.9,120),(61.7,1642),(62.6,1497),(63.4,627),(64.3,192),(65.5,120),(66.8,192),(67.7,47),(69.4,0),(77,0),(79.5,83),(81.2,337),(82,990),(82.9,120),(83.8,700),(84.4,1860),(84.8,192),(85.5,627),(86.7,337),(88,192),(89.7,120),(91.4,0),(99,0),(100.8,47),(104.2,192),(105.5,845),(106.7,627),(107.6,1642),(108.4,410),(109.3,1570),(111,1062),(112.7,627),(115.2,192),(116.9,0),(124.5,0),(126.2,120),(127.5,410),(128.3,1026),(128.8,627),(129.6,265),(130.5,337),(131.3,1570),(132.2,1642),(133.5,1424),(134.8,990),(136.1,627),(137.4,265),(139.1,47),(140.6,0),(148.5,0),(150.2,47),(152,192),(152.8,1062),(153.7,337),(154.3,1352),(155.4,1642),(156.3,1424),(157.1,1570),(158.4,1352),(159.7,917),(161.4,482),(163.1,120),(164.7,0),(173.4,0),(175.2,47),(176.9,265),(177.7,772),(178.6,1352),(179.4,1570),(180.3,1642),(181.6,1570),(182.9,1352),(184.2,845),(185.5,265),(187.2,10),(188.7,0),(197.5,0),(199.2,83),(200.5,265),(201.4,627),(202.2,1352),(203.5,1570),(204.4,1642),(205.7,1424),(206.9,1388),(208.2,990),(209.5,482),(211.2,120),(212.8,0),(221.5,0),(223.3,83),(224.6,265),(225.5,1207),(226.3,1497),(227.1,1570),(228.4,1497),(229.7,1280),(231,772),(232.7,265),(234.4,47),(236.2,0),(239.6,0)]

# panel 4 : 25_T6TOP
p4_phi = [(0,0.81),(3.6,0.81),(4.4,0.79),(6.5,0.77),(8.2,0.75),(9.5,0.73),(10.4,0.70),(10.8,0.64),(11.6,0.68),(12.5,0.52),(12.9,0.57),(13.8,0.68),(14.2,0.24),(14.6,0.52),(15,0.68),(15.9,0.52),(16.7,0.71),(17.6,0.78),(19.3,0.81),(21,0.82),(25.2,0.81),(27.8,0.81),(28.6,0.78),(30.3,0.75),(32,0.71),(33.7,0.66),(35,0.63),(36.2,0.68),(37.1,0.56),(37.9,0.66),(39.2,0.72),(40.5,0.63),(41.2,0.60),(42.2,0.68),(43.5,0.75),(44.6,0.82),(47.3,0.82),(51.5,0.82),(52.4,0.80),(54.9,0.75),(56.6,0.73),(57.9,0.64),(58.3,0.58),(58.8,0.68),(59.2,0.41),(59.6,0.29),(60,0.49),(60.4,0.22),(60.9,0.37),(61.7,0.24),(62.6,0.29),(63.4,0.32),(63.8,0.47),(64.7,0.56),(66,0.68),(67.7,0.75),(68.9,0.80),(71.9,0.78),(76.1,0.76),(77.8,0.75),(79.5,0.71),(81.2,0.69),(82,0.59),(82.9,0.46),(83.8,0.37),(84.6,0.29),(85.5,0.51),(86.3,0.31),(87.2,0.33),(88,0.63),(89.7,0.68),(91.4,0.75),(92.7,0.80),(96.5,0.79),(99.1,0.78),(101.6,0.75),(104.2,0.71),(105.5,0.68),(106.7,0.54),(107.6,0.27),(108.4,0.21),(110.1,0.23),(111.8,0.27),(112.7,0.34),(114.1,0.54),(115.4,0.66),(116.2,0.72),(116.9,0.77),(120.3,0.77),(123.6,0.76),(124.5,0.72),(127,0.71),(128.8,0.69),(130.5,0.63),(131.3,0.49),(131.8,0.44),(132.2,0.32),(132.6,0.20),(134.8,0.20),(135.6,0.24),(136.5,0.37),(137.4,0.54),(138.2,0.63),(139.5,0.73),(140.6,0.77),(143.3,0.77),(147.7,0.76),(148.5,0.73),(152,0.69),(153.7,0.68),(154.5,0.64),(155.4,0.39),(156.3,0.22),(158,0.20),(159.7,0.22),(160.5,0.29),(161.4,0.41),(162.3,0.52),(163.6,0.66),(164.7,0.78),(169.1,0.78),(171.7,0.78),(173.4,0.75),(176,0.71),(177.7,0.69),(179,0.61),(179.4,0.32),(180.3,0.24),(182,0.22),(183.7,0.25),(185.5,0.35),(186.3,0.49),(187.6,0.68),(188.7,0.80),(193.2,0.80),(195.8,0.79),(197.5,0.75),(200.1,0.72),(201.8,0.69),(202.6,0.54),(203.5,0.37),(204.4,0.24),(206.1,0.25),(207.4,0.32),(208.7,0.37),(210,0.54),(211.2,0.68),(212.1,0.78),(212.8,0.80),(216.4,0.80),(219.8,0.79),(221.5,0.75),(224.1,0.71),(226.3,0.69),(227.1,0.49),(228,0.27),(229.3,0.24),(231,0.28),(232.7,0.37),(234.4,0.63),(235.7,0.78),(236.6,0.81),(239.6,0.80)]
p4_fm = [(0,1565),(3.6,1565),(4.4,1480),(5.3,1380),(6.5,1330),(8.2,1315),(9.5,1280),(10.4,1175),(11.2,1040),(12.1,940),(12.5,805),(13.3,905),(14.2,1040),(15,805),(15.9,535),(16.7,1210),(17.6,1380),(19.3,1565),(21,1585),(27.8,1585),(28.6,1315),(29.5,1380),(30.3,1280),(32,1230),(33.7,1175),(35,1010),(35.8,1125),(37.1,940),(37.9,1110),(38.8,1145),(40.1,1095),(41.3,1040),(42.2,1110),(43.5,1380),(44.6,1600),(51.5,1590),(52.4,1480),(54,1415),(55.8,1380),(57.1,1315),(57.9,1145),(58.8,940),(59.6,400),(60.4,705),(61.3,435),(62.1,535),(63.4,535),(64.3,635),(65.1,770),(66.4,1010),(67.7,1245),(68.9,1395),(75.3,1395),(76.6,1345),(77.8,1280),(79.5,1210),(81.2,1160),(82,1010),(82.9,605),(83.8,905),(84.6,570),(86.3,535),(87.2,740),(88,400),(88.9,705),(89.7,975),(91,1175),(92,1345),(93,1450),(96.5,1450),(99.1,1430),(100.8,1315),(102.5,1210),(104.6,1160),(105.9,1040),(107.1,705),(107.6,500),(108.4,365),(110.1,400),(111.8,500),(113,705),(114.3,1040),(115.6,1210),(116.9,1330),(120.3,1330),(123.6,1330),(124.5,1230),(126.2,1175),(127.9,1110),(128.8,1125),(129.6,1095),(130.5,940),(131.3,705),(131.8,570),(132.3,605),(132.9,365),(134.8,350),(136.1,385),(137.4,500),(138.2,770),(139.5,1110),(140.6,1245),(142.5,1280),(147.7,1280),(148.5,1110),(151.1,1075),(153.7,1040),(154.5,875),(155.4,535),(156.3,365),(158,350),(159.7,385),(160.9,435),(161.8,705),(163.1,940),(164.7,1245),(169.1,1295),(171.7,1295),(172.6,1145),(175.2,1110),(176.9,1095),(177.7,1075),(178.6,840),(179,435),(179.4,635),(180.3,330),(182,330),(184.2,365),(185.5,500),(186.3,770),(187.6,1145),(188.7,1330),(193.2,1365),(195.8,1345),(197.5,1175),(200.1,1125),(201.8,1110),(202.6,805),(203.1,435),(203.9,635),(204.4,365),(206.1,350),(207.4,385),(208.7,535),(210,840),(211.2,1175),(212.5,1345),(216.4,1365),(219.8,1330),(221.5,1175),(224.1,1160),(225.8,1145),(226.7,875),(227.1,435),(228,535),(229.1,365),(230.1,350),(231.9,400),(232.7,535),(233.6,875),(234.9,1175),(236.2,1345),(239.6,1365)]
p4_f = [(0,290),(4.8,300),(8.2,330),(9.9,385),(10.8,365),(13.3,400),(14.2,350),(15.9,385),(16.7,350),(18.4,315),(21,280),(27.8,300),(29.5,350),(32,365),(33.7,385),(35.4,400),(37.1,365),(38.8,400),(40.9,435),(42.2,385),(44.7,305),(50.7,325),(54,350),(56.7,385),(57.5,485),(58.3,385),(59.6,450),(60.4,385),(61.7,365),(62.6,300),(64.3,350),(67.7,325),(71.1,305),(76.1,330),(77.8,365),(79.5,385),(82,470),(82.9,400),(84.2,435),(85.5,365),(87.2,435),(88.9,350),(92.3,325),(98.2,325),(100.8,340),(104.2,365),(105.9,435),(106.7,365),(109.3,350),(111.8,365),(115.2,330),(116.9,325),(120.3,340),(124.5,325),(127,330),(128.8,350),(130.9,385),(132.6,315),(134.8,300),(136.5,315),(137.8,365),(138.6,330),(140.6,325),(147.7,325),(152,330),(154.1,350),(155.4,315),(158,280),(160.5,280),(161.8,365),(163.1,315),(164.7,325),(171.7,330),(176,320),(179.4,280),(181.2,265),(184.6,280),(186.3,315),(187.2,300),(188.9,280),(194.9,300),(200.1,305),(202.2,350),(203.5,305),(206.1,265),(208.7,300),(210.4,330),(212,300),(216.4,305),(219.8,300),(224.1,280),(226.7,315),(227.6,330),(229.3,270),(231.9,300),(233.1,330),(234.4,305),(236.2,280),(239.6,280)]
p4_temp = [(0,17.5),(1.4,17.3),(2.3,17.0),(3.1,16.0),(4.4,15.5),(5.7,16.0),(7.4,20.1),(8.2,25.2),(9.5,24.5),(10.4,23.5),(11.6,25.0),(13.3,24.0),(15,25.2),(16.7,24.5),(18,22.5),(19.3,20.1),(21,17.7),(22.7,17.0),(25.2,16.2),(27.8,15.3),(28.6,14.8),(29.5,18.2),(30.3,20.6),(31.2,19.2),(32.9,17.7),(34.2,20.1),(35.4,21.1),(36.2,20.1),(37.9,20.9),(39.2,20.1),(40.5,20.6),(42.2,21.3),(43.9,17.7),(46.4,15.3),(49,14.3),(50.7,13.3),(52.4,12.6),(54,12.4),(55.8,13.8),(57.5,16.5),(59.2,17.0),(60.9,16.5),(62.6,18.2),(64.3,18.4),(66,17.7),(67.7,15.3),(69.4,13.3),(71.9,11.9),(74.4,11.2),(76.1,10.4),(77.8,10.6),(79.5,13.3),(81.2,17.2),(82.5,18.7),(83.8,19.6),(85.5,21.1),(87.2,22.5),(88.5,22.8),(89.7,22.5),(91.4,20.1),(93.1,17.7),(95.7,15.3),(98.2,12.4),(99.9,10.0),(101.6,11.4),(103.3,13.8),(105,16.3),(105.9,20.1),(107.6,19.6),(109.3,20.1),(110.9,21.1),(112.7,21.8),(114.4,21.5),(115.2,20.1),(116.9,15.8),(119,14.3),(121,11.9),(123.6,10.2),(124.5,10.7),(126.2,14.3),(127.9,16.3),(128.8,18.9),(129.6,18.2),(130.9,17.9),(132.2,19.6),(133.9,21.1),(135.6,22.1),(136.9,22.8),(138.2,21.3),(139.1,19.4),(140.4,16.7),(142.5,15.3),(145.1,13.3),(147.2,11.2),(148.5,11.2),(150.2,13.3),(152,16.7),(153.7,19.2),(155.4,22.1),(158,24.0),(159.7,25.0),(161,23.5),(162.3,24.5),(164,20.1),(165.7,17.2),(168.3,15.8),(170,14.3),(172.6,14.1),(174.3,18.2),(176,21.1),(177.7,21.8),(179,23.5),(181.1,24.0),(182.9,25.5),(184.6,25.0),(185.9,28.1),(187.2,24.0),(188.9,22.1),(191.5,19.6),(193.2,17.7),(194.9,15.8),(196.2,13.6),(197.5,17.7),(199.2,23.5),(200.9,25.9),(202.2,25.0),(203.5,24.2),(205.2,25.0),(207,26.4),(208.7,28.1),(210.4,26.9),(212.1,22.5),(213.8,18.2),(215.5,16.3),(217.3,15.8),(219,16.3),(220.7,15.3),(222.4,15.8),(224.1,20.1),(225.8,24.5),(227.5,24.5),(229.3,25.5),(231,26.0),(232.7,26.9),(234,27.2),(235.3,24.0),(236.6,19.2),(237.9,17.5),(239.6,16.5)]
p4_par = [(0,0),(4.4,0),(5.7,46),(7.4,129),(9.1,212),(9.9,296),(10.4,588),(11.2,212),(11.6,380),(12.9,379),(13.3,460),(14.2,1588),(15,1088),(15.9,546),(17.1,212),(18.4,46),(20.1,0),(29.5,0),(30.3,129),(32,171),(33.7,254),(35,400),(35.8,212),(36.7,337),(37.9,212),(39.2,171),(40.9,317),(42.2,129),(43.9,21),(45.6,0),(52.4,0),(54.9,129),(56.6,171),(57.5,337),(58.3,879),(58.8,129),(59.6,754),(60.4,1296),(60.9,879),(61.3,463),(62.1,1546),(62.9,1296),(64.3,254),(65.1,129),(66,463),(66.8,46),(68.5,0),(77,0),(79.5,67),(81.2,254),(82.5,629),(83.3,296),(83.8,1088),(84.6,254),(85.5,463),(86.3,879),(87.6,1088),(88.5,504),(89.7,212),(91,21),(93.1,0),(99.9,0),(101.6,88),(104.2,192),(105.9,379),(107.6,879),(108.8,1296),(109.6,1546),(110.9,1296),(112.7,879),(114,463),(115.2,129),(116.4,21),(117.6,0),(124.5,0),(126.2,129),(127.9,254),(129.6,421),(130.9,671),(132.2,1088),(133.5,1504),(134.8,1213),(136.1,879),(137.4,463),(138.6,129),(139.9,21),(140.6,0),(148.5,0),(150.2,67),(152,171),(153.7,379),(155,671),(156.3,1213),(157.5,1546),(158.8,1213),(160.1,796),(161.4,463),(162.7,171),(164,46),(164.9,0),(172.6,0),(174.3,46),(176,129),(177.7,296),(179.4,671),(180.7,1213),(181.9,1525),(182.9,1379),(184.2,1004),(185.5,588),(187.2,171),(188.9,0),(196.6,0),(198.4,67),(200.1,150),(201.8,296),(203.5,629),(204.8,1213),(205.7,1504),(206.9,1379),(208.2,963),(210,463),(211.2,129),(212.5,0),(220.7,0),(222.4,46),(224.1,129),(225.8,379),(227.1,879),(228.4,1379),(229.3,1504),(230.1,1463),(231,1213),(232.3,796),(233.6,379),(234.9,46),(236.2,0),(239.6,0)]

# panel 5 : 6_T7TOP (record stops on Aug-16 morning)
p5_phi = [(0,0.83),(3.2,0.83),(4.6,0.81),(6,0.78),(7,0.73),(7.9,0.75),(8.9,0.65),(9.8,0.64),(11.3,0.62),(12.2,0.67),(12.7,0.71),(13.7,0.76),(14.6,0.65),(15.6,0.77),(17,0.79),(18.4,0.81),(20.3,0.83),(26.1,0.82),(28,0.82),(28.9,0.73),(30.3,0.76),(31.8,0.74),(33.7,0.71),(35.1,0.70),(36.1,0.72),(37,0.70),(38.4,0.74),(39.9,0.71),(41.3,0.73),(43.2,0.77),(44.7,0.83),(48,0.82),(52.8,0.82),(54.7,0.76),(56.1,0.73),(56.6,0.76),(57.6,0.64),(58.5,0.57),(59.5,0.53),(60.4,0.65),(61.4,0.51),(62.3,0.54),(63.3,0.61),(64.2,0.65),(65.7,0.70),(67.1,0.75),(69,0.82),(73.8,0.82),(75.7,0.80),(77.1,0.76),(78.1,0.70),(79.5,0.65),(80.5,0.61),(81.4,0.53),(82.4,0.57),(83.3,0.46),(84.3,0.58),(85.2,0.49),(86.2,0.61),(87.1,0.57),(88.6,0.70),(90,0.75),(91.5,0.79),(92.9,0.82),(98.6,0.81),(100,0.76),(102,0.73),(103.4,0.70),(104.8,0.73),(105.7,0.62),(106.7,0.54),(108.2,0.51),(110.1,0.53),(112,0.57),(113.9,0.62),(115.8,0.71),(117.2,0.82),(121.5,0.81),(124.4,0.79),(125.8,0.75),(127.3,0.68),(128.2,0.71)]
p5_fm = [(0,1195),(3.6,1190),(4.6,1160),(6,1105),(7,1000),(7.9,945),(8.9,895),(9.7,680),(10.1,630),(10.8,710),(11.7,735),(12.7,710),(13.7,815),(14.6,735),(15.6,870),(16.5,815),(17.5,945),(18.9,1080),(20.3,1200),(26.1,1200),(28,1185),(28.9,975),(29.9,1040),(31.8,945),(33.7,870),(35.6,895),(36.5,840),(37.5,920),(39.4,895),(41.3,945),(43.2,1025),(44.7,1200),(52.8,1185),(54.7,1105),(56.1,1025),(57.6,815),(58.5,655),(59.5,600),(60.4,680),(61.4,590),(62.3,680),(63.8,760),(64.7,840),(66.2,975),(67.6,1080),(69,1175),(73.8,1160),(75.7,1135),(77.1,1055),(78.5,1000),(80.5,945),(81.4,710),(82.4,655),(83.3,760),(84.3,710),(85.2,735),(87.1,760),(88.6,895),(90.5,1000),(91.9,1105),(92.9,1200),(98.6,1185),(100,1105),(102.4,1055),(103.9,1000),(104.8,920),(105.7,680),(106.7,600),(108.2,590),(110.1,630),(112,680),(113.9,760),(115.8,945),(116.8,1135),(117.7,1145),(123.4,1145),(124.8,1105),(126.3,1025),(127.3,920),(128.2,960)]
p5_f = [(0,205),(4.1,210),(7,235),(9.8,285),(12.7,270),(14.1,350),(14.6,270),(16.5,285),(20.3,230),(24.1,220),(28,210),(28.9,230),(30.8,270),(33.7,290),(35.6,270),(37.5,285),(39.4,270),(42.2,255),(45.2,220),(50.9,220),(52.8,245),(54.7,270),(56.6,295),(57.6,365),(58.5,285),(59.5,365),(60,415),(61,285),(62.3,325),(64.2,270),(66.2,255),(68.1,230),(70,220),(75.7,230),(77.6,285),(80.5,295),(82.4,325),(83.3,335),(84.3,295),(86.2,310),(89,285),(92.9,220),(98.6,230),(101.5,270),(105.3,310),(108.2,295),(111,285),(113.9,270),(116.8,220),(123.4,230),(125.3,270),(126.3,310),(127.3,285),(128.2,270)]
p5_temp = [(0,16.7),(2.2,15.7),(3.6,15.0),(5,15.3),(6.5,20.4),(7.4,23.7),(8.4,24.4),(9.4,22.4),(10.3,26.1),(11.3,24.4),(12.2,26.1),(13.2,23.7),(14.6,24.4),(16.5,23.1),(18.4,21.0),(20.3,17.0),(22.2,16.0),(25.1,15.3),(28,14.0),(29.9,14.3),(31.8,18.3),(33.7,21.0),(35.6,19.7),(37.5,19.0),(39.4,19.7),(41.3,20.4),(43.2,18.3),(45.2,15.7),(48,14.0),(50.9,12.6),(52.8,11.3),(54.7,13.0),(55.7,16.3),(57.6,15.7),(58.5,17.7),(60.4,16.7),(62.3,17.7),(64.2,19.0),(66.2,17.7),(68.1,15.0),(70,12.3),(71.9,11.0),(74.7,9.6),(77.6,9.3),(79.1,10.3),(81,15.0),(82.4,18.3),(83.3,19.7),(85.2,20.4),(87.1,20.0),(89,20.4),(91,18.3),(92.9,16.3),(95.8,14.3),(98.6,11.6),(100.5,9.6),(101.5,10.3),(103.4,14.3),(105.3,19.7),(107.2,21.7),(109.1,21.0),(111,20.7),(112.9,20.4),(114.8,18.3),(116.8,15.0),(119.6,13.0),(122.5,11.0),(124.4,9.3),(125.3,9.6),(126.8,13.0),(128.2,17.3)]
p5_par = [(0,18),(5,29),(7,82),(8.9,124),(9.8,626),(10.8,970),(11.3,493),(12.2,335),(13.2,705),(14.1,1340),(15,493),(16,970),(17,229),(18.4,97),(20.3,18),(28,18),(29.9,71),(31.8,150),(33.7,203),(34.7,388),(35.6,176),(37,335),(38,176),(39.4,256),(40.4,124),(42.3,150),(44.2,71),(46.1,18),(53.7,18),(55.1,71),(56.6,229),(57.6,493),(58.5,864),(59.5,1234),(60,1340),(61,176),(61.4,758),(61.9,1234),(62.8,493),(63.8,176),(65.2,124),(66.2,176),(67.6,71),(69,18),(77.6,18),(79.5,97),(80.9,335),(81.9,1023),(82.6,1181),(83.3,493),(84.3,1367),(85.2,493),(86.2,599),(87.1,335),(88.1,917),(89.1,229),(90.5,71),(91.9,18),(99.6,18),(101.5,45),(103.4,124),(104.8,493),(106.3,1023),(107.7,1234),(109.1,1314),(110.5,1234),(112,1023),(113.4,493),(114.8,124),(116.3,18),(124.4,18),(126.3,71),(128.2,82)]

# sun events (month-day time)
dawn_times = ['08-11 03:20','08-12 03:24','08-13 03:28','08-14 03:32','08-15 03:36','08-16 03:40','08-17 03:44','08-18 03:48','08-19 03:51','08-20 03:53']
sunrise_times = ['08-11 04:24','08-12 04:27','08-13 04:30','08-14 04:33','08-15 04:36','08-16 04:39','08-17 04:42','08-18 04:45','08-19 04:48','08-20 04:49']
noon_times = ['08-11 12:33','08-12 12:33','08-13 12:33','08-14 12:33','08-15 12:32','08-16 12:32','08-17 12:32','08-18 12:32','08-19 12:31','08-20 12:31']
sunset_times = ['08-11 20:44','08-12 20:40','08-13 20:37','08-14 20:33','08-15 20:30','08-16 20:27','08-17 20:23','08-18 20:20','08-19 20:17','08-20 20:14']
dusk_times = ['08-11 21:46','08-12 21:42','08-13 21:38','08-14 21:34','08-15 21:30','08-16 21:26','08-17 21:22','08-18 21:18','08-19 21:14','08-20 21:10']

names = ['11_T7LOW', '14_T6LOW', '22_T5TOP', '25_T6TOP', '6_T7TOP']
record_end = ['08-21 00:00', '08-21 00:00', '08-21 00:00', '08-21 00:00', '08-16 08:12']

# axis settings per panel (limits, ticks)
phi_lims = [(0.063, 0.863), (0.264, 0.848), (0.168, 0.863), (0.115, 0.861), (0.180, 0.862)]
phi_ticks = [[0.2, 0.4, 0.6, 0.8], [0.3, 0.4, 0.5, 0.6, 0.7, 0.8], [0.2, 0.4, 0.6, 0.8], [0.2, 0.4, 0.6, 0.8], [0.2, 0.4, 0.6, 0.8]]
fm_lims = [(225, 3226), (227, 4071), (138, 1731), (197, 1678), (143, 1306)]
fm_ticks = [[1000, 2000, 3000], [1000, 2000, 3000, 4000], [400, 800, 1200, 1600], [400, 800, 1200, 1600], [250, 500, 750, 1000, 1250]]
t_lims = [(2.0, 28.7), (0.3, 26.6), (-2.2, 30.2), (8.0, 29.2), (-2.0, 27.6)]
t_ticks = [[10, 20], [5, 10, 15, 20, 25], [0, 10, 20, 30], [10, 15, 20, 25], [0, 10, 20]]
par_lims = [(-361, 1543), (-258, 730), (-1185, 1967), (-162, 1662), (-851, 1481)]
par_ticks = [[0, 500, 1000, 1500], [-250, 0, 250, 500], [-1000, 0, 1000], [0, 500, 1000, 1500], [-500, 0, 500, 1000]]

series = [
    (p1_phi, p1_fm, p1_f, p1_temp, p1_par),
    (p2_phi, p2_fm, p2_f, p2_temp, p2_par),
    (p3_phi, p3_fm, p3_f, p3_temp, p3_par),
    (p4_phi, p4_fm, p4_f, p4_temp, p4_par),
    (p5_phi, p5_fm, p5_f, p5_temp, p5_par),
]

GREEN = '#228B22'
PURPLE = '#A020F0'
YELLOW = '#CDCD00'
GREY = '#4D4D4D'
FS = 13.8


def xy(pts):
    arr = np.array(pts, dtype=float)
    return START + pd.to_timedelta(arr[:, 0], unit='h'), arr[:, 1]


def stamp(s):
    return pd.Timestamp('2021-' + s)


W, H = 1950, 1180
fig = plt.figure(figsize=(W / 100, H / 100), dpi=100)
fig.patch.set_facecolor('white')
fig.patches.append(Rectangle((0, 1 - 107 / H), 1, 107 / H, transform=fig.transFigure,
                             facecolor='black', edgecolor='none', zorder=0))

tops = [115, 329, 544, 758, 973]
AX_L, AX_W, AX_H = 102, 1584, 146

for i in range(5):
    top = tops[i]
    ax = fig.add_axes([AX_L / W, 1 - (top + AX_H) / H, AX_W / W, AX_H / H])
    ax.set_xlim(START - pd.Timedelta(hours=11.8), START + pd.Timedelta(hours=251.6))
    end = stamp(record_end[i])

    # night shading
    sr = [stamp(s) for s in sunrise_times]
    ss = [stamp(s) for s in sunset_times]
    ax.axvspan(START, sr[0], color='cyan', alpha=0.06, lw=0, zorder=0.6)
    for k in range(len(ss)):
        if k + 1 < len(sr) and sr[k + 1] <= end:
            ax.axvspan(ss[k], sr[k + 1], color='cyan', alpha=0.2, lw=0, zorder=0.6)
        elif ss[k] < end:
            ax.axvspan(ss[k], end, color='cyan', alpha=0.06, lw=0, zorder=0.6)

    # sun event lines
    for times, col in [(dawn_times, '#9F30FF'), (sunrise_times, '#FF6060'), (noon_times, '#FFB030'),
                       (sunset_times, '#FF6060'), (dusk_times, '#9F30FF')]:
        for s in times:
            t = stamp(s)
            if t.normalize() <= end.normalize():
                ax.axvline(t, color=col, lw=1.3, ls=(0, (4, 3)), zorder=0.8)

    # grid + axes styling
    ax.set_ylim(phi_lims[i])
    ax.set_yticks(phi_ticks[i])
    step = phi_ticks[i][1] - phi_ticks[i][0]
    ax.yaxis.set_minor_locator(FixedLocator(np.arange(phi_ticks[i][0] - step / 2, phi_ticks[i][-1] + step, step)))
    ax.xaxis.set_major_locator(mdates.DayLocator())
    ax.xaxis.set_minor_locator(mdates.HourLocator(byhour=[12]))
    ax.xaxis.set_major_formatter(mdates.DateFormatter('%b-%d\n%H:%M'))
    ax.set_axisbelow(True)
    ax.grid(True, which='major', color='#E6E6E6', lw=1.1)
    ax.grid(True, which='minor', color='#F2F2F2', lw=0.6)
    ax.tick_params(which='minor', length=0)
    ax.tick_params(axis='y', which='major', colors=GREEN, labelsize=FS, length=4, width=1.1)
    ax.tick_params(axis='x', which='major', colors='#333333', labelcolor='black', labelsize=FS, length=4, width=1.1)
    for side in ['top', 'bottom', 'right']:
        ax.spines[side].set_color('#5A5A5A')
        ax.spines[side].set_linewidth(1.1)
    ax.spines['left'].set_color(GREEN)
    ax.spines['left'].set_linewidth(1.5)

    phi, fm, f, temp, par = series[i]

    # PAR axis
    ax_par = ax.twinx()
    ax_par.set_ylim(par_lims[i])
    ax_par.set_yticks(par_ticks[i])
    ax_par.spines['right'].set_position(('axes', (1854 - AX_L) / AX_W))
    for side in ['top', 'bottom', 'left']:
        ax_par.spines[side].set_visible(False)
    ax_par.spines['right'].set_color(YELLOW)
    ax_par.spines['right'].set_linewidth(1.5)
    ax_par.tick_params(axis='y', colors=YELLOW, labelsize=FS, length=4, width=1.1)
    x, y = xy(par)
    ax_par.plot(x, y, color=YELLOW, lw=1.3)

    # temperature axis
    ax_t = ax.twinx()
    ax_t.set_ylim(t_lims[i])
    ax_t.set_yticks(t_ticks[i])
    ax_t.spines['right'].set_position(('axes', (1778 - AX_L) / AX_W))
    for side in ['top', 'bottom', 'left']:
        ax_t.spines[side].set_visible(False)
    ax_t.spines['right'].set_color(PURPLE)
    ax_t.spines['right'].set_alpha(0.75)
    ax_t.spines['right'].set_linewidth(1.6)
    ax_t.tick_params(axis='y', colors=PURPLE, labelsize=FS, length=4, width=1.1)
    for lab in ax_t.get_yticklabels():
        lab.set_alpha(0.8)
    x, y = xy(temp)
    ax_t.plot(x, y, color=PURPLE, lw=1.3, alpha=0.8)

    # Fm' / F' axis
    ax_fm = ax.twinx()
    ax_fm.set_ylim(fm_lims[i])
    ax_fm.set_yticks(fm_ticks[i])
    for side in ['top', 'bottom', 'left', 'right']:
        ax_fm.spines[side].set_visible(False)
    ax_fm.tick_params(axis='y', colors='#333333', labelcolor='black', labelsize=FS, length=4, width=1.1)
    x, y = xy(f)
    ax_fm.plot(x, y, color=GREY, lw=1.7, marker='.', ms=2.5)
    x, y = xy(fm)
    ax_fm.plot(x, y, color='black', lw=1.7, marker='.', ms=2.5)

    # PhiP on top
    ax_g = ax.twinx()
    ax_g.set_ylim(phi_lims[i])
    ax_g.axis('off')
    x, y = xy(phi)
    ax_g.plot(x, y, color=GREEN, lw=1.7, marker='.', ms=2.5)

    # titles
    yc = 1 - (top + AX_H / 2) / H
    fig.text(18 / W, yc, 'ΦP[Y(II)]', rotation=90, color=GREEN, fontweight='bold',
             fontsize=15, ha='center', va='center')
    fig.text(48 / W, yc, names[i], rotation=90, color='black', fontweight='bold',
             fontsize=13, ha='center', va='center')
    yb = 1 - (top + AX_H / 2 + 24) / H
    fig.text(1753 / W, yb, 'Fm’ or', rotation=-90, color='black', fontweight='bold',
             fontsize=16, ha='center', va='bottom')
    fig.text(1753 / W, yb - 5 / H, 'F’', rotation=-90, color='#8C8C8C', fontweight='bold',
             fontsize=16, ha='center', va='top')
    fig.text(1827 / W, yc, r'Temperature ($^{\rm o}$C)', rotation=-90, color=PURPLE, alpha=0.8,
             fontsize=14.5, ha='center', va='center')
    fig.text(1933 / W, yc, 'PAR', rotation=-90, color=YELLOW, fontsize=15.5,
             ha='center', va='center')

fig.savefig('out.png', dpi=100, facecolor='white')
